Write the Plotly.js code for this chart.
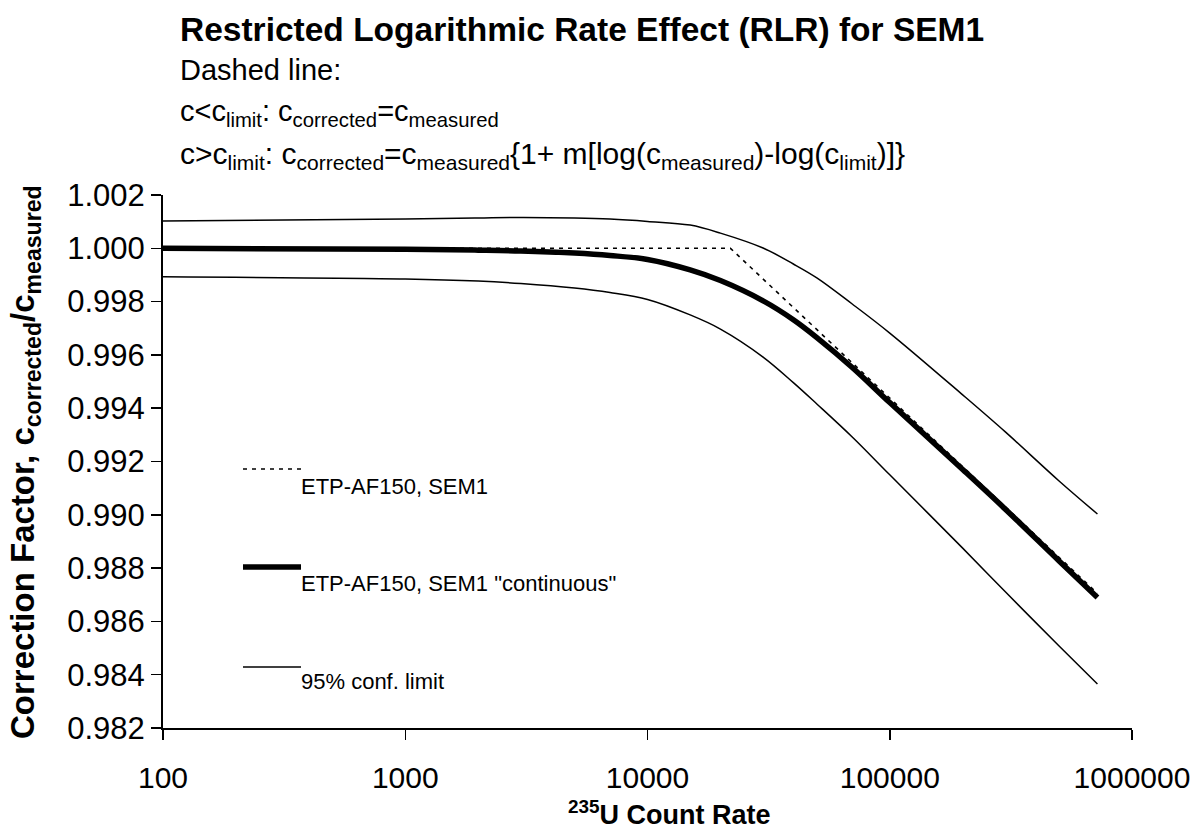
<!DOCTYPE html>
<html>
<head>
<meta charset="utf-8">
<script src="https://cdn.plot.ly/plotly-3.0.1.min.js"></script>
<style>
  html, body { margin: 0; padding: 0; background: #ffffff; }
  #chart { width: 1191px; height: 836px; }
</style>
</head>
<body>
<div id="chart"></div>
<script>
// 235U count rates at which the curves are sampled
const countRate = [100, 1000, 2000, 3000, 5000, 7000, 10000, 15000, 20000,
                   30000, 40000, 50000, 70000, 100000, 200000, 300000, 500000, 720000];

// "continuous" correction factor (thick line)
const continuousFactor = [1.00000, 0.99996, 0.99993, 0.99990, 0.99982, 0.99973,
                          0.99958, 0.99919, 0.99879, 0.99803, 0.99732, 0.99665,
                          0.99553, 0.99421, 0.99170, 0.99021, 0.98827, 0.98690];

// 95% confidence limits around the continuous curve
const upperLimit = [1.00102, 1.00110, 1.00114, 1.00116, 1.00114, 1.00110,
                    1.00101, 1.00087, 1.00057, 1.00001, 0.99941, 0.99889,
                    0.99791, 0.99682, 0.99450, 0.99311, 0.99127, 0.99003];
const lowerLimit = [0.99893, 0.99885, 0.99877, 0.99868, 0.99851, 0.99834,
                    0.99808, 0.99750, 0.99697, 0.99592, 0.99496, 0.99416,
                    0.99292, 0.99150, 0.98875, 0.98711, 0.98508, 0.98365];

// restricted logarithmic model: flat up to c_limit, then linear in log(c)
const stepRate = [100, 22000, 720000];
const stepFactor = [1.00000, 1.00000, 0.98705];

// axis ticks
const xTickValues = [100, 1000, 10000, 100000, 1000000];
const xTickLabels = ['100', '1000', '10000', '100000', '1000000'];
const yTickValues = [0.982, 0.984, 0.986, 0.988, 0.990, 0.992, 0.994, 0.996, 0.998, 1.000, 1.002];

// legend entries
const legendLabels = ['ETP-AF150, SEM1', 'ETP-AF150, SEM1 "continuous"', '95% conf. limit'];

const FONT = 'Liberation Sans, Arial, Helvetica, sans-serif';
const W = 1191, H = 836;
const plotLeft = 163, plotRight = 1132, plotTop = 195, plotBottom = 728;

// pixel position -> paper fraction
const px = x => (x - plotLeft) / (plotRight - plotLeft);
const py = y => (plotBottom - y) / (plotBottom - plotTop);

const traces = [
  { x: stepRate, y: stepFactor, mode: 'lines', name: legendLabels[0],
    line: { color: '#000000', width: 1.6, dash: '4px,5px' } },
  { x: countRate, y: upperLimit, mode: 'lines', name: legendLabels[2],
    line: { color: '#000000', width: 1.5, shape: 'spline', smoothing: 1 } },
  { x: countRate, y: lowerLimit, mode: 'lines', name: legendLabels[2],
    line: { color: '#000000', width: 1.5, shape: 'spline', smoothing: 1 } },
  { x: countRate, y: continuousFactor, mode: 'lines', name: legendLabels[1],
    line: { color: '#000000', width: 5.5, shape: 'spline', smoothing: 1 } }
];

// hand-placed legend: line sample above-left of its label
const legendRows = [
  { y: 469, ty: 486, dash: '4px,5px', width: 1.6 },
  { y: 567, ty: 583, dash: 'solid', width: 5.5 },
  { y: 667, ty: 681, dash: 'solid', width: 1.5 }
];
const shapes = legendRows.map(r => ({
  type: 'line', xref: 'paper', yref: 'paper',
  x0: px(243), x1: px(301), y0: py(r.y), y1: py(r.y),
  line: { color: '#000000', width: r.width, dash: r.dash }
}));

const annotations = legendRows.map((r, i) => ({
  xref: 'paper', yref: 'paper', x: px(299), y: py(r.ty),
  xanchor: 'left', yanchor: 'middle', showarrow: false,
  text: legendLabels[i], font: { family: FONT, size: 22, color: '#000000' }
}));

const headerLines = [
  { text: '<b>Restricted Logarithmic Rate Effect (RLR) for SEM1</b>', y: 30, size: 33.5 },
  { text: 'Dashed line:', y: 70, size: 29 },
  { text: 'c&lt;c<sub>limit</sub>: c<sub>corrected</sub>=c<sub>measured</sub>', y: 113, size: 29 },
  { text: 'c&gt;c<sub>limit</sub>: c<sub>corrected</sub>=c<sub>measured</sub>{1+ m[log(c<sub>measured</sub>)-log(c<sub>limit</sub>)]}', y: 155, size: 30 }
];
headerLines.forEach(h => annotations.push({
  xref: 'paper', yref: 'paper', x: px(178), y: py(h.y),
  xanchor: 'left', yanchor: 'middle', showarrow: false,
  text: h.text, font: { family: FONT, size: h.size, color: '#000000' }
}));

// axis titles
annotations.push({
  xref: 'paper', yref: 'paper', x: px(25), y: py(462),
  xanchor: 'center', yanchor: 'middle', textangle: -90, showarrow: false,
  text: '<b>Correction Factor, c<sub>corrected</sub>/c<sub>measured</sub></b>',
  font: { family: FONT, size: 33, color: '#000000' }
});
annotations.push({
  xref: 'paper', yref: 'paper', x: px(669), y: py(813),
  xanchor: 'center', yanchor: 'middle', showarrow: false,
  text: '<b><sup>235</sup>U Count Rate</b>',
  font: { family: FONT, size: 27, color: '#000000' }
});

const layout = {
  width: W, height: H,
  margin: { l: plotLeft, r: W - plotRight, t: plotTop, b: H - plotBottom, pad: 0 },
  paper_bgcolor: '#ffffff', plot_bgcolor: '#ffffff',
  showlegend: false,
  font: { family: FONT, color: '#000000' },
  xaxis: {
    type: 'log', range: [2, 6],
    tickmode: 'array', tickvals: xTickValues, ticktext: xTickLabels,
    ticks: 'outside', ticklen: 10, tickwidth: 1.5, tickcolor: '#000000',
    showline: true, linecolor: '#000000', linewidth: 2,
    showgrid: false, zeroline: false,
    tickfont: { family: FONT, size: 30, color: '#000000' },
    ticklabelstandoff: 12
  },
  yaxis: {
    range: [0.982, 1.002],
    tickmode: 'array', tickvals: yTickValues,
    tickformat: '.3f',
    ticks: 'outside', ticklen: 10, tickwidth: 1.5, tickcolor: '#000000',
    showline: true, linecolor: '#000000', linewidth: 2,
    showgrid: false, zeroline: false,
    tickfont: { family: FONT, size: 31, color: '#000000' }
  },
  shapes: shapes,
  annotations: annotations
};

Plotly.newPlot('chart', traces, layout, { displayModeBar: false, staticPlot: true });
</script>
</body>
</html>
